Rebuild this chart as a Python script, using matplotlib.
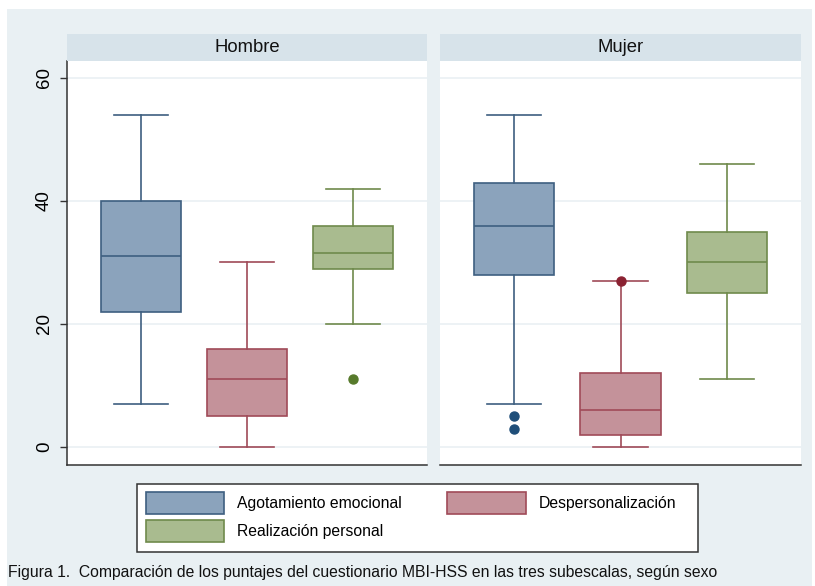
import matplotlib

matplotlib.use("Agg")

import matplotlib.pyplot as plt
from matplotlib.patches import Patch, Rectangle

plt.rcParams["font.family"] = ["Liberation Sans", "DejaVu Sans"]

panels = ["Hombre", "Mujer"]
subscales = ["Agotamiento emocional", "Despersonalización", "Realización personal"]

# per panel, per subscale: whisker low, Q1, median, Q3, whisker high
whislo = [[7, 0, 20], [7, 0, 11]]
q1 = [[22, 5, 29], [28, 2, 25]]
med = [[31, 11, 31.5], [36, 6, 30]]
q3 = [[40, 16, 36], [43, 12, 35]]
whishi = [[54, 30, 42], [54, 27, 46]]
outliers = [[[], [], [11]], [[5, 3], [27], []]]

y_ticks = [0, 20, 40, 60]

fills = ["#8ba3bc", "#c4929a", "#a9bb8f"]
edges = ["#3e5f80", "#a04a58", "#6f8a4c"]
dots = ["#1f4e79", "#8b2232", "#577a2b"]

BG = "#e9f0f3"
STRIP = "#d7e3ea"

W, H = 815.0, 586.0
fig = plt.figure(figsize=(8.15, 5.86), dpi=100, facecolor="white")
fig.patches.append(Rectangle((7 / W, 0), 805 / W, 577 / H, transform=fig.transFigure,
                             facecolor=BG, edgecolor="none", zorder=-10))

panel_x = [(67, 427), (440, 801)]
y_top, y_bot = 61, 465
strip_top = 34

for p, name in enumerate(panels):
    x0, x1 = panel_x[p]
    ax = fig.add_axes([x0 / W, (H - y_bot) / H, (x1 - x0) / W, (y_bot - y_top) / H])
    ax.set_facecolor("white")
    for i in range(3):
        st = {
            "whislo": whislo[p][i], "q1": q1[p][i], "med": med[p][i],
            "q3": q3[p][i], "whishi": whishi[p][i], "fliers": outliers[p][i],
        }
        ax.bxp([st], positions=[i + 1], widths=0.755, patch_artist=True, showfliers=True,
               boxprops=dict(facecolor=fills[i], edgecolor=edges[i], linewidth=1.2),
               medianprops=dict(color=edges[i], linewidth=1.2),
               whiskerprops=dict(color=edges[i], linewidth=1.2),
               capprops=dict(color=edges[i], linewidth=1.2),
               capwidths=0.51,
               flierprops=dict(marker="o", markerfacecolor=dots[i], markeredgecolor=dots[i],
                               markersize=6.5, linestyle="none"))
    ax.set_xlim(0.302, 3.698)
    ax.set_ylim(-2.93, 62.76)
    ax.set_xticks([])
    ax.set_yticks(y_ticks)
    ax.grid(axis="y", color="#eaf0f3", linewidth=1.2)
    ax.set_axisbelow(True)
    for s in ["top", "right"]:
        ax.spines[s].set_visible(False)
    ax.spines["bottom"].set_color("#333333")
    ax.spines["bottom"].set_linewidth(1.1)
    if p == 0:
        ax.spines["left"].set_color("#333333")
        ax.spines["left"].set_linewidth(1.1)
        ax.tick_params(axis="y", length=5, width=1, color="#333333", labelsize=13.5, pad=5)
        for lab in ax.get_yticklabels():
            lab.set_rotation(90)
            lab.set_va("center")
    else:
        ax.spines["left"].set_visible(False)
        ax.tick_params(axis="y", length=0, labelleft=False)

    sax = fig.add_axes([x0 / W, (H - y_top) / H, (x1 - x0) / W, (y_top - strip_top) / H])
    sax.set_facecolor(STRIP)
    sax.set_xticks([])
    sax.set_yticks([])
    for s in sax.spines.values():
        s.set_visible(False)
    sax.text(0.5, 0.5, name, ha="center", va="center", fontsize=13.3, color="#111111",
             transform=sax.transAxes)

# legend frame drawn by hand so its size matches the original
fig.patches.append(Rectangle((137 / W, (H - 552) / H), 561 / W, 68 / H, transform=fig.transFigure,
                             facecolor="white", edgecolor="#333333", linewidth=1.1, zorder=1))
handles = [Patch(facecolor=fills[i], edgecolor=edges[i], linewidth=1.2, label=subscales[i])
           for i in [0, 2, 1]]
leg = fig.legend(handles=handles, loc="upper left", bbox_to_anchor=(146 / W, (H - 492) / H),
                 ncol=2, fontsize=11.3, frameon=False, handlelength=5.0, handleheight=1.78,
                 handletextpad=0.8, labelspacing=0.4, columnspacing=2.9, borderpad=0,
                 borderaxespad=0)
leg.set_zorder(2)

fig.text(8 / W, (H - 572) / H,
         "Figura 1.  Comparación de los puntajes del cuestionario MBI-HSS en las tres subescalas, según sexo",
         ha="left", va="center", fontsize=11.3, color="#111111")

fig.savefig("out.png", dpi=100, facecolor=fig.get_facecolor())
